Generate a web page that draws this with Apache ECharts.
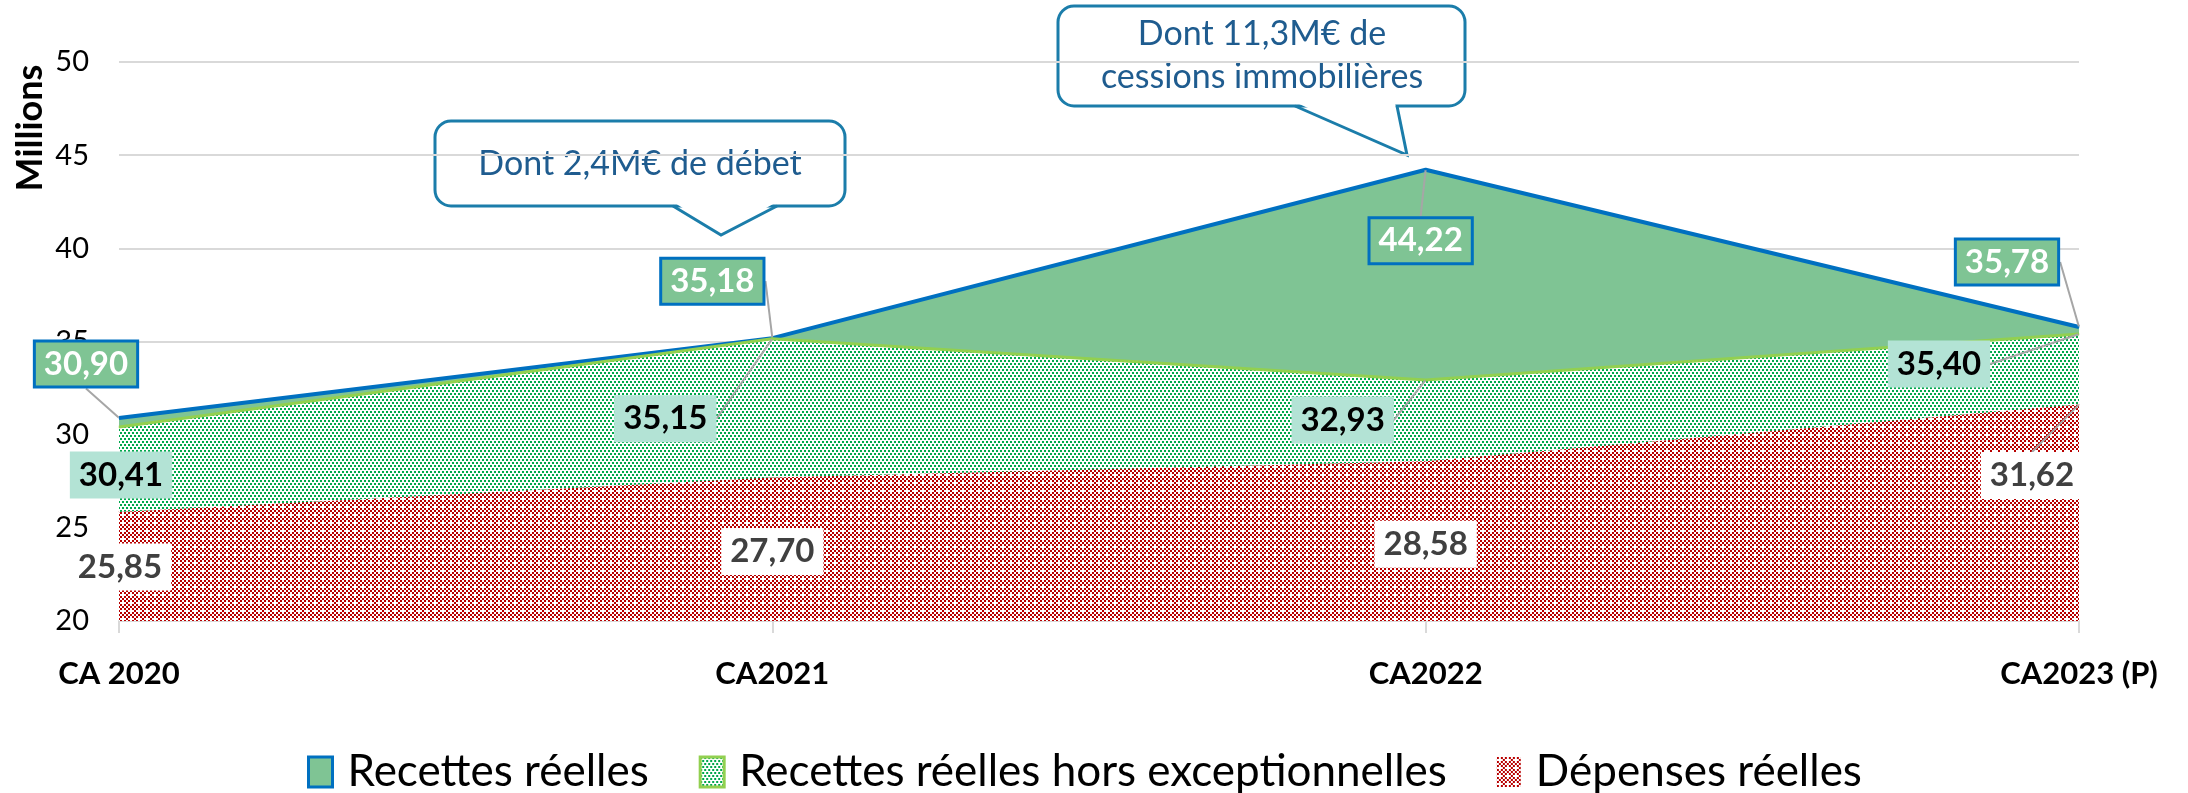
<!DOCTYPE html>
<html>
<head>
<meta charset="utf-8">
<script src="https://cdn.jsdelivr.net/npm/echarts@6/dist/echarts.min.js"></script>
<style>
  html, body { margin: 0; padding: 0; background: #fff; }
  #chart { width: 2188px; height: 793px; }
</style>
</head>
<body>
<div id="chart"></div>
<script>
// données (millions d'euros)
const categories = ['CA 2020', 'CA2021', 'CA2022', 'CA2023 (P)']
const recettesReelles = [30.90, 35.18, 44.22, 35.78]
const recettesHorsExc = [30.41, 35.15, 32.93, 35.40]
const depensesReelles = [25.85, 27.70, 28.58, 31.62]
const seriesNames = ['Recettes réelles', 'Recettes réelles hors exceptionnelles', 'Dépenses réelles']

// placement des étiquettes (décalage en px par rapport au point)
const offRecettes = [[-33, -54], [-60, -57], [-5, 71], [-72, -65]]
const offHorsExc = [[2, 48], [-107, 80], [-83, 40], [-140, 30]]
const offDepenses = [[1, 55], [0, 74], [0, 83], [-47, 71]]
const leaderRecettes = [true, true, true, true]
const leaderHorsExc = [false, true, true, true]
const leaderDepenses = [false, false, false, true]

const FONT = 'Lato, "Open Sans", sans-serif'

// motifs de remplissage
const makePattern = (w, h, draw) => {
  const c = document.createElement('canvas')
  c.width = w
  c.height = h
  const ctx = c.getContext('2d')
  ctx.fillStyle = '#fff'
  ctx.fillRect(0, 0, w, h)
  draw(ctx)
  return { image: c, repeat: 'repeat' }
}

const greenDots = makePattern(4, 6, ctx => {
  ctx.fillStyle = '#00A84C'
  ctx.fillRect(0, 0, 2, 2)
  ctx.fillRect(2, 3, 2, 2)
})

const redChecker = makePattern(8, 8, ctx => {
  ctx.fillStyle = '#B80000'
  for (let i = 0; i < 4; i++) {
    for (let j = 0; j < 4; j++) {
      if ((i + j) % 2 === 0 && !(i === 1 && j === 1)) {
        ctx.fillRect(i * 2, j * 2, 2, 2)
      }
    }
  }
})

const fmt = v => v.toFixed(2).replace('.', ',')

const buildData = (values, leaders) => values.map((v, i) => ({
  value: v,
  labelLine: { show: leaders[i] }
}))

const layoutFrom = offsets => params => {
  const o = offsets[params.dataIndex]
  const cx = params.rect.x + params.rect.width / 2
  const cy = params.rect.y + params.rect.height / 2
  return {
    x: cx + o[0],
    y: cy + o[1],
    align: 'center',
    verticalAlign: 'middle'
  }
}

const labelLine = {
  show: true,
  lineStyle: { color: '#A6A6A6', width: 2 }
}

const chart = echarts.init(document.getElementById('chart'))

const option = {
  animation: false,
  textStyle: { fontFamily: FONT },
  grid: { left: 119, right: 109, top: 62, bottom: 172 },
  legend: {
    left: 302,
    top: 744,
    itemWidth: 24,
    itemHeight: 30,
    itemGap: 50,
    textStyle: { fontSize: 44, lineHeight: 46, color: '#000', fontFamily: FONT, padding: [0, 0, 0, 10] },
    data: [
      { name: seriesNames[0], icon: 'rect', itemStyle: { color: '#7FC494', borderColor: '#0070C0', borderWidth: 3 } },
      { name: seriesNames[1], icon: 'rect', itemStyle: { color: greenDots, borderColor: '#92D050', borderWidth: 3 } },
      { name: seriesNames[2], icon: 'rect', itemStyle: { color: redChecker, borderWidth: 0 } }
    ]
  },
  xAxis: {
    type: 'category',
    data: categories,
    boundaryGap: false,
    axisLine: { lineStyle: { color: '#D9D9D9', width: 2 } },
    axisTick: { show: true, length: 12, lineStyle: { color: '#D9D9D9', width: 2 } },
    axisLabel: { fontSize: 31, fontWeight: 'bold', color: '#000', margin: 37, fontFamily: FONT }
  },
  yAxis: {
    type: 'value',
    min: 20,
    max: 50,
    interval: 5,
    axisLine: { show: false },
    axisTick: { show: false },
    splitLine: { lineStyle: { color: '#D9D9D9', width: 2 } },
    axisLabel: { fontSize: 29, color: '#000', margin: 30, fontFamily: FONT }
  },
  series: [
    {
      name: seriesNames[0],
      type: 'line',
      data: buildData(recettesReelles, leaderRecettes),
      symbol: 'circle',
      symbolSize: 1,
      itemStyle: { color: '#0070C0' },
      lineStyle: { color: '#0070C0', width: 4 },
      areaStyle: { color: '#7FC494', opacity: 1, origin: 'start' },
      label: {
        show: true,
        formatter: p => fmt(p.value),
        fontSize: 33,
        fontWeight: 'bold',
        color: '#fff',
        backgroundColor: '#7FC494',
        borderColor: '#0070C0',
        borderWidth: 3,
        padding: [6, 8, 4, 8],
        fontFamily: FONT
      },
      labelLine: labelLine,
      labelLayout: layoutFrom(offRecettes),
      z: 2
    },
    {
      name: seriesNames[1],
      type: 'line',
      data: buildData(recettesHorsExc, leaderHorsExc),
      symbol: 'circle',
      symbolSize: 1,
      itemStyle: { color: '#92D050' },
      lineStyle: { color: '#92D050', width: 3 },
      areaStyle: { color: greenDots, opacity: 1, origin: 'start' },
      label: {
        show: true,
        formatter: p => fmt(p.value),
        fontSize: 33,
        fontWeight: 'bold',
        color: '#000',
        backgroundColor: '#B3E3D5',
        padding: [8, 9, 6, 9],
        fontFamily: FONT
      },
      labelLine: labelLine,
      labelLayout: layoutFrom(offHorsExc),
      z: 3
    },
    {
      name: seriesNames[2],
      type: 'line',
      data: buildData(depensesReelles, leaderDepenses),
      symbol: 'circle',
      symbolSize: 1,
      itemStyle: { color: redChecker },
      lineStyle: { width: 0, opacity: 0 },
      areaStyle: { color: redChecker, opacity: 1, origin: 'start' },
      label: {
        show: true,
        formatter: p => fmt(p.value),
        fontSize: 33,
        fontWeight: 'bold',
        color: '#404040',
        backgroundColor: '#fff',
        padding: [8, 9, 6, 9],
        fontFamily: FONT
      },
      labelLine: labelLine,
      labelLayout: layoutFrom(offDepenses),
      z: 4
    }
  ],
  graphic: [
    {
      type: 'text',
      x: 30,
      y: 128,
      rotation: Math.PI / 2,
      style: {
        text: 'Millions',
        fontSize: 36,
        fontWeight: 'bold',
        fill: '#000',
        fontFamily: FONT,
        align: 'center',
        verticalAlign: 'middle'
      }
    },
    // bulle "débet"
    {
      type: 'group',
      children: [
        { type: 'rect', shape: { x: 435, y: 121, width: 410, height: 85, r: 16 }, style: { fill: '#fff', stroke: '#1B7DAA', lineWidth: 3 } },
        { type: 'polygon', shape: { points: [[675, 203], [721, 233], [775, 203]] }, style: { fill: '#fff' } },
        { type: 'polyline', shape: { points: [[673, 206], [721, 235], [777, 206]] }, style: { stroke: '#1B7DAA', lineWidth: 3, fill: null } },
        { type: 'text', x: 640, y: 164, style: { text: 'Dont 2,4M€ de débet', fontSize: 34, fill: '#1F5C8F', fontFamily: FONT, align: 'center', verticalAlign: 'middle' } }
      ]
    },
    // bulle "cessions"
    {
      type: 'group',
      children: [
        { type: 'rect', shape: { x: 1058, y: 6, width: 407, height: 100, r: 16 }, style: { fill: '#fff', stroke: '#1B7DAA', lineWidth: 3 } },
        { type: 'polygon', shape: { points: [[1297, 103], [1405, 152], [1395, 103]] }, style: { fill: '#fff' } },
        { type: 'polyline', shape: { points: [[1295, 106], [1407, 155], [1397, 106]] }, style: { stroke: '#1B7DAA', lineWidth: 3, fill: null } },
        { type: 'text', x: 1262, y: 56, style: { text: 'Dont 11,3M€ de\ncessions immobilières', fontSize: 34, lineHeight: 43, fill: '#1F5C8F', fontFamily: FONT, align: 'center', verticalAlign: 'middle' } }
      ]
    }
  ]
}

chart.setOption(option)
</script>
</body>
</html>
